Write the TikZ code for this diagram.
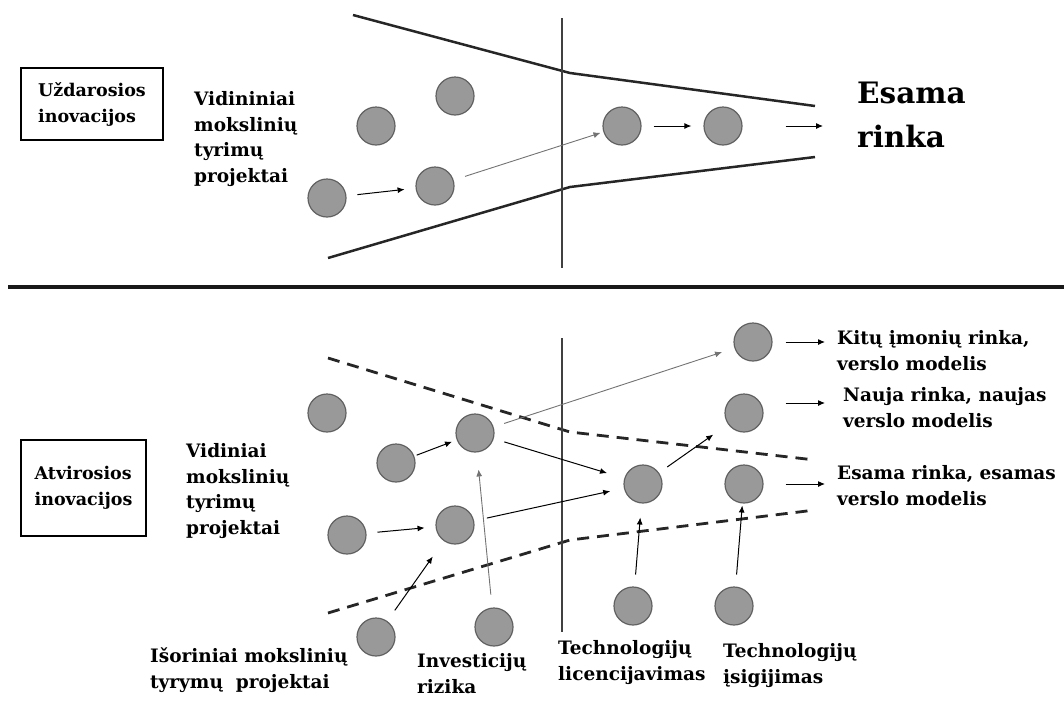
\documentclass[tikz,border=0pt]{standalone}
\usepackage{fontspec}
\setmainfont{DejaVu Serif}
\usetikzlibrary{arrows.meta}
\begin{document}
\begin{tikzpicture}[x=1pt,y=-1pt,
  blob/.style={circle,draw=black!62,line width=1.2pt,fill=black!40,minimum size=38pt,inner sep=0pt},
  arr/.style={line width=1pt,-{Latex[length=7pt,width=6pt]}},
  garr/.style={draw=black!55,line width=0.9pt,-{Latex[length=7pt,width=6pt]}},
  lbl/.style={anchor=base west,align=left,inner sep=0pt,font=\bfseries\fontsize{18.5}{25.5}\selectfont},
  framebox/.style={draw,line width=1.3pt,align=left,inner sep=0pt,font=\bfseries\fontsize{17.5}{26}\selectfont},
  funnel/.style={line width=2.5pt,draw=black!85},
  dashline/.style={line width=2.8pt,draw=black!85,dash pattern=on 12pt off 8pt},
  divider/.style={line width=2.5pt,draw=black!75}]
\useasboundingbox (0,0) rectangle (1064,702);
% ---------- top: closed innovation ----------
\node[framebox,minimum width=142pt,minimum height=72pt] (boxA) at (92,104) {Uždarosios\\inovacijos};
\node[lbl] (vidA) at (194,182) {Vidininiai\\mokslinių\\tyrimų\\projektai};
\node[anchor=base west,align=left,inner sep=0pt,font=\bfseries\fontsize{29.5}{44}\selectfont] (esamaA) at (857,147) {Esama\\rinka};
\draw[funnel] (353,15) -- (570,73) -- (815,106);
\draw[funnel] (328,258) -- (570,187) -- (815,157);
\draw[divider] (562,18) -- (562,268);
\node[blob] (t1) at (327,198) {};
\node[blob] (t2) at (376,126) {};
\node[blob] (t3) at (455,96) {};
\node[blob] (t4) at (435,186) {};
\node[blob] (t5) at (622,126) {};
\node[blob] (t6) at (723,126) {};
\coordinate (tEnd) at (823,126);
\draw[arr,shorten <=11pt,shorten >=11pt] (t1) -- (t4);
\draw[garr,shorten <=12pt,shorten >=3pt] (t4) -- (t5);
\draw[arr,shorten <=12pt,shorten >=12pt] (t5) -- (t6);
\draw[arr,shorten <=43pt] (t6) -- (tEnd);
% ---------- separator ----------
\draw[line width=4pt,draw=black!90] (8,287) -- (1064,287);
% ---------- bottom: open innovation ----------
\node[framebox,minimum width=125pt,minimum height=96pt] (boxB) at (83.5,488) {Atvirosios\\inovacijos};
\node[lbl] (vidB) at (186,534) {Vidiniai\\mokslinių\\tyrimų\\projektai};
\node[lbl] (kitu) at (837,370) {Kitų įmonių rinka,\\verslo modelis};
\node[lbl] (nauja) at (843,427) {Nauja rinka, naujas\\verslo modelis};
\node[lbl] (esamaB) at (837,505) {Esama rinka, esamas\\verslo modelis};
\node[lbl] (isor) at (150,688) {Išoriniai mokslinių\\tyrymų\ \ projektai};
\node[lbl] (invest) at (417,693) {Investicijų\\rizika};
\node[lbl] (lic) at (558,680) {Technologijų\\licencijavimas};
\node[lbl] (isig) at (723,683) {Technologijų\\įsigijimas};
\draw[dashline] (328,358) -- (570,432) -- (815,460);
\draw[dashline] (328,613) -- (570,540) -- (815,510);
\draw[divider] (562,338) -- (562,632);
\node[blob] (b1) at (327,413) {};
\node[blob] (b2) at (396,463) {};
\node[blob] (b3) at (475,433) {};
\node[blob] (b4) at (347,535) {};
\node[blob] (b5) at (455,525) {};
\node[blob] (b6) at (376,637) {};
\node[blob] (b7) at (494,627) {};
\node[blob] (b8) at (753,342) {};
\node[blob] (b9) at (744,413) {};
\node[blob] (b10) at (643,484) {};
\node[blob] (b11) at (744,484) {};
\node[blob] (b12) at (633,606) {};
\node[blob] (b13) at (734,606) {};
\coordinate (e8) at (825,342);
\coordinate (e9) at (825,403);
\coordinate (e11) at (825,484);
\draw[arr,shorten <=2.5pt,shorten >=5pt] (b2) -- (b3);
\draw[arr,shorten <=11pt,shorten >=11pt] (b4) -- (b5);
\draw[arr,shorten <=13pt,shorten >=19pt] (b6) -- (b5);
\draw[garr,shorten <=13pt,shorten >=17pt] (b7) -- (b3);
\draw[garr,shorten <=11pt,shorten >=13pt] (b3) -- (b8);
\draw[arr,shorten <=11pt,shorten >=18pt] (b3) -- (b10);
\draw[arr,shorten <=13pt,shorten >=14pt] (b5) -- (b10);
\draw[arr,shorten <=10pt,shorten >=18pt] (b10) -- (b9);
\draw[arr,shorten <=12pt,shorten >=14pt] (b12) -- (b10);
\draw[arr,shorten <=12pt,shorten >=2pt] (b13) -- (b11);
\draw[arr,shorten <=13pt] (b8) -- (e8);
\draw[arr,shorten <=22pt] ([yshift=10pt]b9.east) -- (e9);
\draw[arr,shorten <=22pt] (b11.east) -- (e11);
\end{tikzpicture}
\end{document}
